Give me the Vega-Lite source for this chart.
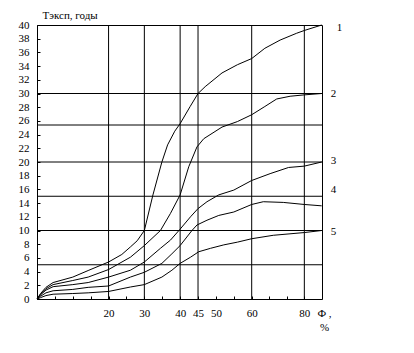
{
  "$schema": "https://vega.github.io/schema/vega-lite/v6.json",
  "width": 285,
  "height": 274,
  "autosize": {"type": "none"},
  "padding": {"left": 37, "top": 25, "right": 92, "bottom": 54},
  "background": "white",
  "config": {
    "view": {"stroke": "black", "strokeWidth": 1},
    "font": "Liberation Serif",
    "axis": {
      "titleFont": "Liberation Serif", "titleFontSize": 11, "titleFontWeight": "normal", "titleColor": "black",
      "labelFont": "Liberation Serif", "labelFontSize": 11, "labelColor": "black",
      "labelOverlap": false, "labelFlush": false, "labelPadding": 11,
      "tickSize": -3, "tickColor": "black", "domainColor": "black", "grid": false
    }
  },
  "datasets": {
    "gridx": [{"x": 20}, {"x": 30}, {"x": 40}, {"x": 45}, {"x": 60}, {"x": 80}],
    "gridy": [{"y": 5}, {"y": 10}, {"y": 15}, {"y": 20}, {"y": 25.4}, {"y": 30}],
    "curves": [
      {"c": "1", "x": 0, "y": 0}, {"c": "1", "x": 1, "y": 0.8}, {"c": "1", "x": 2.5, "y": 1.7}, {"c": "1", "x": 4.5, "y": 2.4}, {"c": "1", "x": 10, "y": 3.2}, {"c": "1", "x": 14.5, "y": 4.2}, {"c": "1", "x": 20, "y": 5.4}, {"c": "1", "x": 23.7, "y": 6.5}, {"c": "1", "x": 26.1, "y": 7.6}, {"c": "1", "x": 28, "y": 8.5}, {"c": "1", "x": 30, "y": 10}, {"c": "1", "x": 32.4, "y": 15.2}, {"c": "1", "x": 34.9, "y": 20}, {"c": "1", "x": 36.5, "y": 22.5}, {"c": "1", "x": 38.5, "y": 24.5}, {"c": "1", "x": 40, "y": 25.6}, {"c": "1", "x": 42.8, "y": 28.1}, {"c": "1", "x": 45, "y": 30}, {"c": "1", "x": 47, "y": 31}, {"c": "1", "x": 51.7, "y": 33}, {"c": "1", "x": 56, "y": 34.2}, {"c": "1", "x": 60, "y": 35.1}, {"c": "1", "x": 65, "y": 36.6}, {"c": "1", "x": 70.8, "y": 37.8}, {"c": "1", "x": 77.1, "y": 38.8}, {"c": "1", "x": 80, "y": 39.2}, {"c": "1", "x": 86.6, "y": 40},
      {"c": "2", "x": 0, "y": 0}, {"c": "2", "x": 1, "y": 0.7}, {"c": "2", "x": 2.5, "y": 1.5}, {"c": "2", "x": 4.5, "y": 2.1}, {"c": "2", "x": 10, "y": 2.7}, {"c": "2", "x": 14.3, "y": 3.2}, {"c": "2", "x": 20, "y": 4.3}, {"c": "2", "x": 26.1, "y": 6.1}, {"c": "2", "x": 30, "y": 7.8}, {"c": "2", "x": 34.5, "y": 10}, {"c": "2", "x": 37.3, "y": 12.5}, {"c": "2", "x": 40, "y": 15.2}, {"c": "2", "x": 42.4, "y": 19.3}, {"c": "2", "x": 44.7, "y": 22.2}, {"c": "2", "x": 46.6, "y": 23.4}, {"c": "2", "x": 51.7, "y": 25.1}, {"c": "2", "x": 56, "y": 25.9}, {"c": "2", "x": 60, "y": 26.9}, {"c": "2", "x": 65, "y": 28.1}, {"c": "2", "x": 69.5, "y": 29.2}, {"c": "2", "x": 74.6, "y": 29.6}, {"c": "2", "x": 80, "y": 29.8}, {"c": "2", "x": 86.6, "y": 30},
      {"c": "3", "x": 0, "y": 0}, {"c": "3", "x": 1, "y": 0.6}, {"c": "3", "x": 2.5, "y": 1.3}, {"c": "3", "x": 4.5, "y": 1.8}, {"c": "3", "x": 10, "y": 2.1}, {"c": "3", "x": 14.3, "y": 2.4}, {"c": "3", "x": 20, "y": 3.2}, {"c": "3", "x": 26.1, "y": 4.2}, {"c": "3", "x": 30, "y": 5.4}, {"c": "3", "x": 34.5, "y": 7.4}, {"c": "3", "x": 37.3, "y": 8.6}, {"c": "3", "x": 40, "y": 10.2}, {"c": "3", "x": 42.9, "y": 12}, {"c": "3", "x": 45, "y": 13.2}, {"c": "3", "x": 47.5, "y": 14.2}, {"c": "3", "x": 50.8, "y": 15.2}, {"c": "3", "x": 55, "y": 15.9}, {"c": "3", "x": 60, "y": 17.3}, {"c": "3", "x": 67, "y": 18.3}, {"c": "3", "x": 74, "y": 19.2}, {"c": "3", "x": 80, "y": 19.4}, {"c": "3", "x": 86.6, "y": 20},
      {"c": "4", "x": 0, "y": 0}, {"c": "4", "x": 1, "y": 0.4}, {"c": "4", "x": 2.5, "y": 0.9}, {"c": "4", "x": 4.5, "y": 1.2}, {"c": "4", "x": 10, "y": 1.4}, {"c": "4", "x": 14.3, "y": 1.7}, {"c": "4", "x": 20, "y": 1.9}, {"c": "4", "x": 26.1, "y": 3.2}, {"c": "4", "x": 30, "y": 3.9}, {"c": "4", "x": 34.9, "y": 5.2}, {"c": "4", "x": 37.7, "y": 6.6}, {"c": "4", "x": 40, "y": 7.8}, {"c": "4", "x": 43.3, "y": 10}, {"c": "4", "x": 44.7, "y": 10.8}, {"c": "4", "x": 47.5, "y": 11.5}, {"c": "4", "x": 50.8, "y": 12.2}, {"c": "4", "x": 55, "y": 12.7}, {"c": "4", "x": 60, "y": 13.8}, {"c": "4", "x": 64.4, "y": 14.2}, {"c": "4", "x": 72, "y": 14.1}, {"c": "4", "x": 80, "y": 13.8}, {"c": "4", "x": 86.6, "y": 13.6},
      {"c": "5", "x": 0, "y": 0}, {"c": "5", "x": 1, "y": 0.2}, {"c": "5", "x": 2.5, "y": 0.5}, {"c": "5", "x": 4.5, "y": 0.7}, {"c": "5", "x": 10, "y": 0.8}, {"c": "5", "x": 14.3, "y": 0.9}, {"c": "5", "x": 20, "y": 1.1}, {"c": "5", "x": 26.1, "y": 1.75}, {"c": "5", "x": 30, "y": 2.1}, {"c": "5", "x": 34.9, "y": 3.2}, {"c": "5", "x": 37.7, "y": 4.2}, {"c": "5", "x": 40, "y": 5.2}, {"c": "5", "x": 42.9, "y": 6.1}, {"c": "5", "x": 45.2, "y": 6.9}, {"c": "5", "x": 48.5, "y": 7.4}, {"c": "5", "x": 52.2, "y": 7.9}, {"c": "5", "x": 56, "y": 8.3}, {"c": "5", "x": 60, "y": 8.8}, {"c": "5", "x": 68.2, "y": 9.3}, {"c": "5", "x": 80, "y": 9.7}, {"c": "5", "x": 86.6, "y": 10}
    ],
    "labels": [
      {"c": "1", "x": 92.3, "y": 39.6},
      {"c": "2", "x": 90, "y": 30},
      {"c": "3", "x": 90, "y": 20.2},
      {"c": "4", "x": 90, "y": 15.9},
      {"c": "5", "x": 90, "y": 9.8}
    ]
  },
  "layer": [
    {
      "data": {"name": "curves"},
      "mark": {"type": "line", "color": "black", "strokeWidth": 1},
      "encoding": {
        "x": {
          "field": "x", "type": "quantitative",
          "scale": {"domain": [0, 60, 86.6], "range": [0, 214.7, 284.7], "nice": false, "zero": false},
          "axis": {
            "title": ["Ф ,", "%"],
            "titleX": 287, "titleY": 8, "titleAlign": "center", "titleBaseline": "top", "titleLineHeight": 14,
            "tickCount": 100, "format": "d",
            "values": [0, 5, 10, 15, 20, 25, 30, 35, 40, 45, 50, 55, 60, 66.67, 73.33, 80],
            "labelExpr": "indexof([20,30,40,45,50,60,80], datum.value) >= 0 ? datum.label : ''"
          }
        },
        "y": {
          "field": "y", "type": "quantitative",
          "scale": {"domain": [0, 40], "nice": false},
          "axis": {
            "title": "Тэксп, годы",
            "titleAngle": 0, "titleX": 5, "titleY": -10, "titleAlign": "left", "titleBaseline": "middle",
            "tickCount": 100, "format": "d",
            "values": [0, 2, 4, 6, 8, 10, 12, 14, 16, 18, 20, 22, 24, 26, 28, 30, 32, 34, 36, 38, 40]
          }
        },
        "detail": {"field": "c"}
      }
    },
    {
      "data": {"name": "gridx"},
      "mark": {"type": "rule", "color": "black", "strokeWidth": 1},
      "encoding": {
        "x": {"field": "x", "type": "quantitative"}
      }
    },
    {
      "data": {"name": "gridy"},
      "mark": {"type": "rule", "color": "black", "strokeWidth": 1},
      "encoding": {
        "y": {"field": "y", "type": "quantitative"}
      }
    },
    {
      "data": {"name": "labels"},
      "mark": {"type": "text", "font": "Liberation Serif", "fontSize": 11, "color": "black", "align": "left", "baseline": "middle"},
      "encoding": {
        "x": {"field": "x", "type": "quantitative"},
        "y": {"field": "y", "type": "quantitative"},
        "text": {"field": "c"}
      }
    }
  ]
}
